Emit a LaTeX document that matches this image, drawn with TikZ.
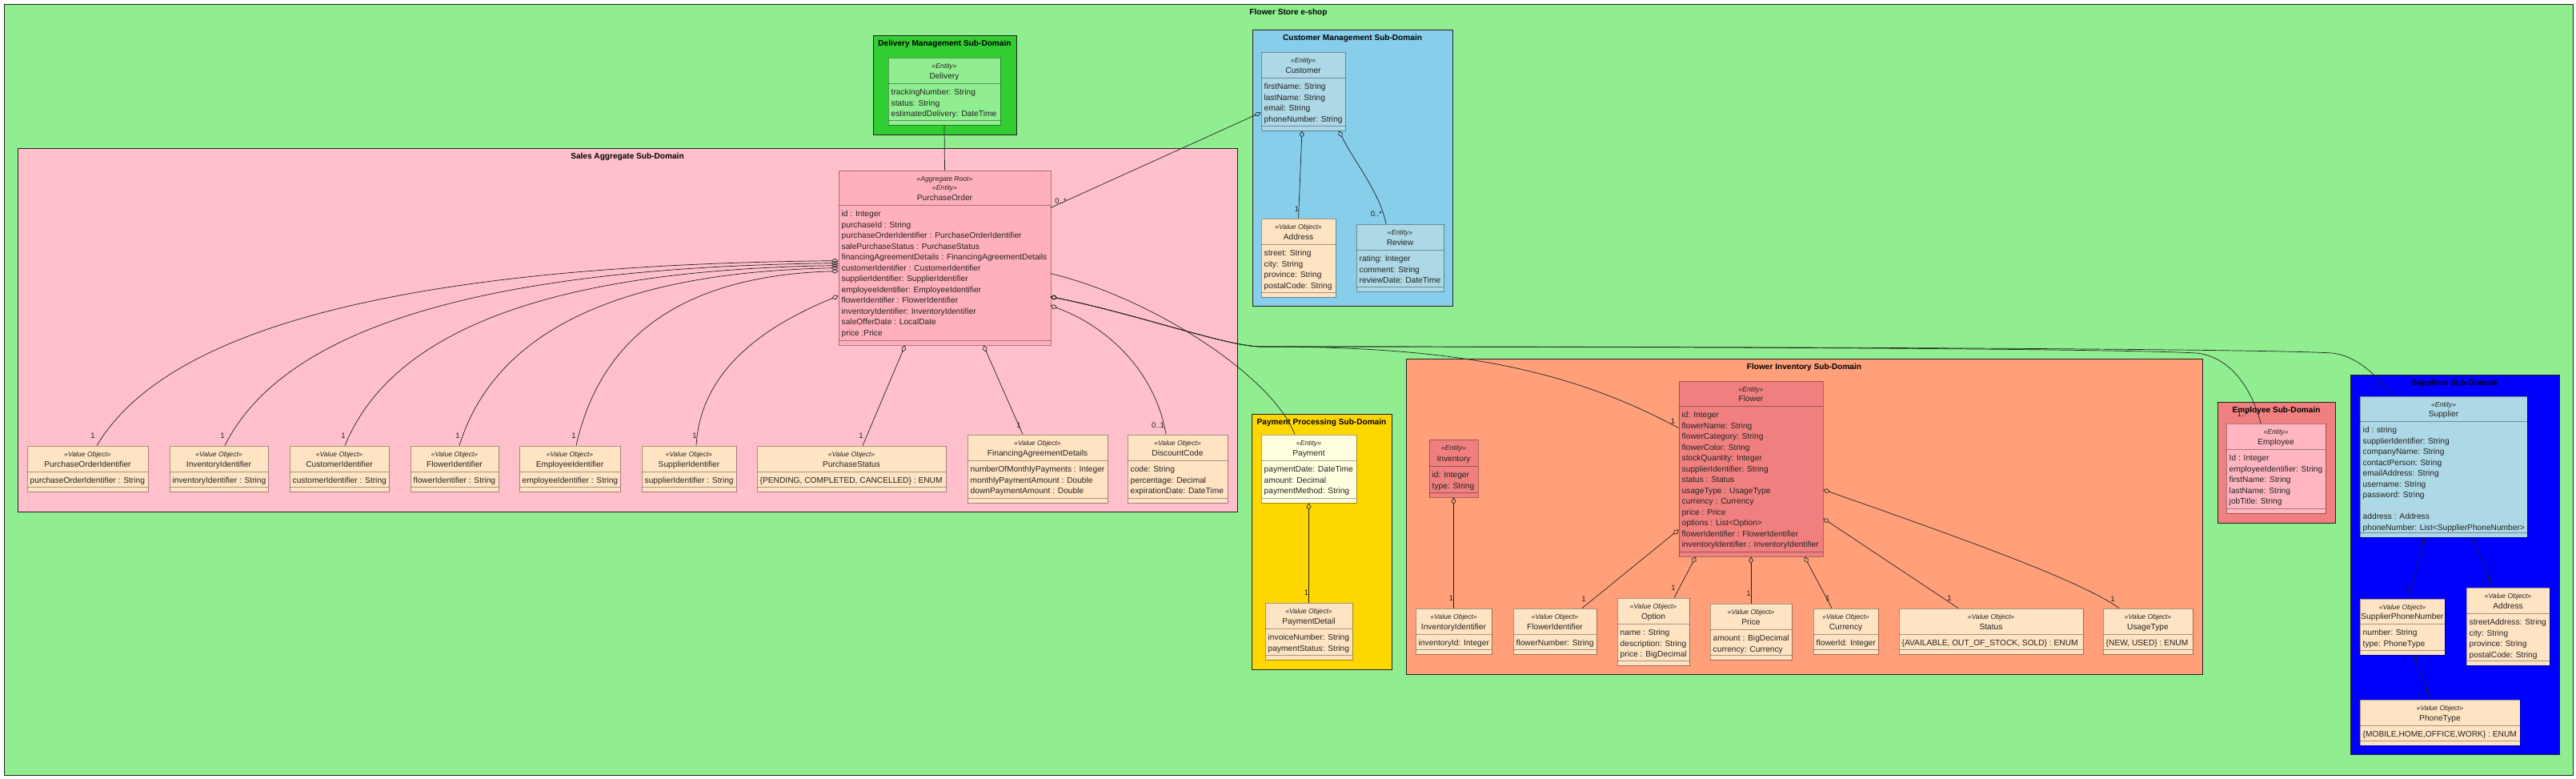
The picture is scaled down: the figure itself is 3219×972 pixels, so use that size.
\documentclass[tikz,border=0pt]{standalone}
\usepackage{fontspec}
\setmainfont{Liberation Sans}
\usetikzlibrary{arrows.meta,fit}

\definecolor{ink}{HTML}{222222}
\definecolor{bgouter}{HTML}{90EE90}
\definecolor{sdsalesc}{HTML}{FFC0CB}
\definecolor{sddelivc}{HTML}{32CD32}
\definecolor{sdcustc}{HTML}{87CEEB}
\definecolor{sdpayc}{HTML}{FFD700}
\definecolor{sdflowc}{HTML}{FFA07A}
\definecolor{sdempc}{HTML}{F08080}
\definecolor{sdsupc}{HTML}{0000FF}
\definecolor{cpo}{HTML}{FFB0BC}
\definecolor{cvo}{HTML}{FFE4C4}
\definecolor{cblue}{HTML}{ADD8E6}
\definecolor{cgreen}{HTML}{90EE90}
\definecolor{cyel}{HTML}{FFFFE0}
\definecolor{ccoral}{HTML}{F08080}
\definecolor{cpink}{HTML}{FFB6C1}

% class box: name x1 y1 x2 y2 headerY fill | stereotypes name attributes
\newcommand\umlcls[7]{\def\cN{#1}\def\cXa{#2}\def\cYa{#3}\def\cXb{#4}\def\cYb{#5}\def\cH{#6}\def\cF{#7}\umlclsrest}
\newcommand\umlclsrest[3]{%
  \node[clsbox, fill=\cF, fit={(\cXa,\cYa)(\cXb,\cYb)}] (\cN) {};
  \draw[clsrule] (\cXa,\cH) -- (\cXb,\cH);
  \draw[clsrule] ({\cXa},{\cYb-5.5}) -- ({\cXb},{\cYb-5.5});
  \foreach \s [count=\i] in {#1} {\node[stereo] (\cN-s\i) at ({(\cXa+\cXb)/2},{\cYa+13+(\i-1)*11.3}) {\s};}
  \node[cname] (\cN-n) at ({(\cXa+\cXb)/2},{\cH-5.5}) {#2};
  \foreach \a [count=\i] in {#3} {\node[attr] (\cN-a\i) at ({\cXa+3.5},{\cH+14.5+(\i-1)*13.5}) {\a};}
}
% sub-domain frame: name x1 y1 x2 y2 fill title
\newcommand\sdbox[7]{%
  \node[sdframe, fill=#6, fit={(#2,#3)(#4,#5)}] (#1) {};
  \node[sdtitle] (#1-t) at ({(#2+#4)/2},{#3+13}) {#7};
}

\begin{document}
\begin{tikzpicture}[x=1pt,y=-1pt,
  clsbox/.style={draw=black, draw opacity=0.35, line width=0.8pt, inner sep=0pt},
  clsrule/.style={draw=black, draw opacity=0.35, line width=0.8pt},
  stereo/.style={anchor=base, inner sep=0pt, font=\fontsize{8.6}{10}\selectfont\itshape, text=ink},
  cname/.style={anchor=base, inner sep=0pt, font=\fontsize{10.2}{12}\selectfont, text=ink},
  attr/.style={anchor=base west, inner sep=0pt, font=\fontsize{10.2}{12}\selectfont, text=ink},
  sdframe/.style={draw=ink, line width=1pt, inner sep=0pt},
  sdtitle/.style={anchor=base, inner sep=0pt, font=\fontsize{10.1}{12}\selectfont\bfseries, text=black},
  conn/.style={draw=ink, line width=0.7pt},
  agg/.style={conn, arrows={Diamond[open,length=9pt,width=6pt]-}},
  mult/.style={inner sep=0pt, font=\fontsize{9.5}{11}\selectfont, text=ink},
  ml/.style 2 args={mult, anchor=center, xshift=#1, yshift=#2},
  m1/.style={ml={-3pt}{12pt}}
]
\useasboundingbox (0,0) rectangle (3219,972);
\fill[white] (0,0) rectangle (3219,972);

% ---------- frames ----------
\sdbox{outer}{5}{5}{3215}{968}{bgouter}{Flower Store e-shop}
\sdbox{sdsales}{22}{185}{1546}{639}{sdsalesc}{Sales Aggregate Sub-Domain}
\sdbox{sddel}{1091}{44}{1270}{168}{sddelivc}{Delivery Management Sub-Domain}
\sdbox{sdcust}{1565}{37}{1815}{382}{sdcustc}{Customer Management Sub-Domain}
\sdbox{sdpay}{1564}{517}{1739}{836}{sdpayc}{Payment Processing Sub-Domain}
\sdbox{sdflow}{1757}{448}{2752}{842}{sdflowc}{Flower Inventory Sub-Domain}
\sdbox{sdemp}{2771}{502}{2918}{653}{sdempc}{Employee Sub-Domain}
\sdbox{sdsup}{2937}{468}{3198}{942}{sdsupc}{Suppliers Sub-Domain}

% ---------- classes ----------
\umlcls{deliv}{1110}{72}{1250}{156}{104}{cgreen}{«Entity»}{Delivery}{trackingNumber: String,status: String,estimatedDelivery: DateTime}

\umlcls{cust}{1576}{65}{1681}{163}{97}{cblue}{«Entity»}{Customer}{firstName: String,lastName: String,email: String,phoneNumber: String}
\umlcls{caddr}{1576}{273}{1669}{371}{305}{cvo}{«Value Object»}{Address}{street: String,city: String,province: String,postalCode: String}
\umlcls{review}{1695}{280}{1804}{364}{312}{cblue}{«Entity»}{Review}{rating: Integer,comment: String,reviewDate: DateTime}

\umlcls{po}{1048}{213}{1313}{431}{256}{cpo}{«Aggregate Root»,«Entity»}{PurchaseOrder}{id : Integer,purchaseId : String,purchaseOrderIdentifier : PurchaseOrderIdentifier,salePurchaseStatus : PurchaseStatus,financingAgreementDetails : FinancingAgreementDetails,customerIdentifier : CustomerIdentifier,supplierIdentifier: SupplierIdentifier,employeeIdentifier: EmployeeIdentifier,flowerIdentifier : FlowerIdentifier,inventoryIdentifier: InventoryIdentifier,saleOfferDate : LocalDate,price :Price}

\umlcls{poi}{34}{557}{185}{614}{589}{cvo}{«Value Object»}{PurchaseOrderIdentifier}{purchaseOrderIdentifier : String}
\umlcls{invi}{212}{557}{335}{614}{589}{cvo}{«Value Object»}{InventoryIdentifier}{inventoryIdentifier : String}
\umlcls{custi}{362}{557}{486}{614}{589}{cvo}{«Value Object»}{CustomerIdentifier}{customerIdentifier : String}
\umlcls{flowi}{513}{557}{623}{614}{589}{cvo}{«Value Object»}{FlowerIdentifier}{flowerIdentifier : String}
\umlcls{empi}{649}{557}{775}{614}{589}{cvo}{«Value Object»}{EmployeeIdentifier}{employeeIdentifier : String}
\umlcls{supi}{802}{557}{920}{614}{589}{cvo}{«Value Object»}{SupplierIdentifier}{supplierIdentifier : String}
\umlcls{pstat}{946}{557}{1182}{614}{589}{cvo}{«Value Object»}{PurchaseStatus}{{\{PENDING, COMPLETED, CANCELLED\} : ENUM}}
\umlcls{fad}{1209}{543}{1384}{628}{575}{cvo}{«Value Object»}{FinancingAgreementDetails}{numberOfMonthlyPayments : Integer,monthlyPaymentAmount : Double,downPaymentAmount : Double}
\umlcls{disc}{1409}{543}{1534}{628}{575}{cvo}{«Value Object»}{DiscountCode}{code: String,percentage: Decimal,expirationDate: DateTime}

\umlcls{payment}{1576}{543}{1695}{628}{575}{cyel}{«Entity»}{Payment}{paymentDate: DateTime,amount: Decimal,paymentMethod: String}
\umlcls{paydet}{1581}{753}{1690}{824}{785}{cvo}{«Value Object»}{PaymentDetail}{invoiceNumber: String,paymentStatus: String}

\umlcls{inv}{1786}{549}{1847}{621}{582}{ccoral}{«Entity»}{Inventory}{id: Integer,type: String}
\umlcls{invid}{1769}{760}{1864}{817}{792}{cvo}{«Value Object»}{InventoryIdentifier}{inventoryId: Integer}
\umlcls{flid}{1891}{760}{1995}{817}{792}{cvo}{«Value Object»}{FlowerIdentifier}{flowerNumber: String}
\umlcls{option}{2021}{747}{2111}{831}{779}{cvo}{«Value Object»}{Option}{name : String,description: String,price : BigDecimal}
\umlcls{price}{2137}{754}{2239}{824}{786}{cvo}{«Value Object»}{Price}{amount : BigDecimal,currency: Currency}
\umlcls{currency}{2266}{760}{2347}{817}{792}{cvo}{«Value Object»}{Currency}{flowerId: Integer}
\umlcls{status}{2373}{760}{2603}{817}{792}{cvo}{«Value Object»}{Status}{{\{AVAILABLE, OUT\_OF\_STOCK, SOLD\} : ENUM}}
\umlcls{usage}{2628}{760}{2740}{817}{792}{cvo}{«Value Object»}{UsageType}{{\{NEW, USED\} : ENUM}}
\umlcls{flower}{2098}{476}{2278}{695}{507}{ccoral}{«Entity»}{Flower}{id: Integer,flowerName: String,flowerCategory: String,flowerColor: String,stockQuantity: Integer,supplierIdentifier: String,status : Status,usageType : UsageType,currency : Currency,price : Price,options : List<Option>,flowerIdentifier : FlowerIdentifier,inventoryIdentifier : InventoryIdentifier}

\umlcls{employee}{2782}{529}{2906}{641}{561}{cpink}{«Entity»}{Employee}{Id : Integer,employeeIdentifier: String,firstName: String,lastName: String,jobTitle: String}

\umlcls{supplier}{2949}{495}{3158}{671}{526}{cblue}{«Entity»}{Supplier}{id : string,supplierIdentifier: String,companyName: String,contactPerson: String,emailAddress: String,username: String,password: String,{},address : Address,phoneNumber: List<SupplierPhoneNumber>}
\umlcls{sphone}{2949}{748}{3055}{818}{779}{cvo}{«Value Object»}{SupplierPhoneNumber}{number: String,type: PhoneType}
\umlcls{saddr}{3082}{734}{3186}{831}{766}{cvo}{«Value Object»}{Address}{streetAddress: String,city: String,province: String,postalCode: String}
\umlcls{phonetype}{2949}{874}{3149}{931}{906}{cvo}{«Value Object»}{PhoneType}{{\{MOBILE,HOME,OFFICE,WORK\} : ENUM}}

% ---------- connectors ----------
\coordinate (bundle) at (1575,433);
\coordinate (ebend) at (2745,441);
\coordinate (sbend) at (2915,441);

\draw[conn] (deliv.south) -- (po.north);

\draw[agg] ([shift={(0,76)}]cust.north west) -- ([shift={(265,47)}]po.north west) node[ml={13pt}{8pt}]{0..*};
\draw[agg] ([xshift=-1.5pt]cust.south) -- (caddr.north) node[ml={-2pt}{11pt}]{1};
\draw[agg] ([xshift=44.5pt]cust.south) .. controls (1693,203) and (1724,240) .. ([xshift=-17.5pt]review.north) node[ml={-12pt}{12pt}]{0..*};

\draw[agg] ([shift={(0,113)}]po.north west) .. controls (538,331) and (214,400) .. ([xshift=11.5pt]poi.north) node[ml={-5pt}{12pt}]{1};
\draw[agg] ([shift={(0,116)}]po.north west) .. controls (626,334) and (358,402) .. ([xshift=7.5pt]invi.north) node[m1]{1};
\draw[agg] ([shift={(0,119)}]po.north west) .. controls (709,337) and (493,404) .. ([xshift=7pt]custi.north) node[ml={-2pt}{12pt}]{1};
\draw[agg] ([shift={(0,122)}]po.north west) .. controls (787,340) and (621,406) .. ([xshift=6pt]flowi.north) node[ml={-2pt}{12pt}]{1};
\draw[agg] ([shift={(0,126)}]po.north west) .. controls (868,344) and (753,409) .. ([xshift=8pt]empi.north) node[m1]{1};
\draw[agg] ([shift={(0,157)}]po.north west) .. controls (948,410) and (875,467) .. ([xshift=9pt]supi.north) node[ml={-2pt}{12pt}]{1};
\draw[agg] ([xshift=-49.5pt]po.south) -- ([xshift=14pt]pstat.north) node[ml={-2pt}{12pt}]{1};
\draw[agg] ([xshift=48.5pt]po.south) -- ([xshift=-18.5pt]fad.north) node[ml={-5pt}{11pt}]{1};
\draw[agg] ([shift={(265,169)}]po.north west) .. controls (1390,410) and (1445,470) .. ([xshift=-14.5pt]disc.north) node[ml={-10pt}{11pt}]{0..1};

\draw[conn] ([shift={(265,129)}]po.north west) .. controls (1440,372) and (1590,470) .. ([xshift=-17.5pt]payment.north);
\draw[agg] (payment.south) -- (paydet.north) node[m1]{1};

\draw[agg] ([shift={(265,158)}]po.north west) .. controls (1420,392) and (1530,432) .. (bundle) .. controls (1800,433) and (1950,455) .. ([shift={(0,59)}]flower.north west) node[ml={-7pt}{8pt}]{1};
\draw[agg] ([shift={(265,158)}]po.north west) .. controls (1420,392) and (1530,432) .. (bundle) .. controls (2200,433) and (2650,436) .. (ebend) .. controls (2790,446) and (2815,490) .. ([xshift=-19pt]employee.north) node[ml={-22pt}{11pt}]{1..*};
\draw[agg] ([shift={(265,158)}]po.north west) .. controls (1420,392) and (1530,432) .. (bundle) .. controls (2300,433) and (2830,436) .. (sbend) .. controls (2950,446) and (2975,475) .. ([xshift=-64.5pt]supplier.north) node[ml={-21pt}{12pt}]{1..*};

\draw[agg] (inv.south) -- (invid.north) node[m1]{1};
\draw[agg] ([shift={(0,186)}]flower.north west) -- ([xshift=34pt]flid.north) node[ml={2pt}{11pt}]{1};
\draw[agg] ([xshift=-69pt]flower.south) -- ([xshift=26pt]option.north) node[ml={-1pt}{12pt}]{1};
\draw[agg] (flower.south) -- (price.north) node[m1]{1};
\draw[agg] ([xshift=67pt]flower.south) -- ([xshift=-17.5pt]currency.north) node[ml={-5pt}{12pt}]{1};
\draw[agg] ([shift={(0,172)}]flower.north east) -- ([xshift=-41pt]status.north) node[ml={-11pt}{12pt}]{1};
\draw[agg] ([shift={(0,136)}]flower.north east) .. controls (2450,672) and (2600,725) .. ([xshift=-36pt]usage.north) node[ml={-8pt}{11pt}]{1};

\draw[agg] ([xshift=-23.5pt]supplier.south) -- ([xshift=8pt]sphone.north) node[ml={-1pt}{12pt}]{1};
\draw[agg] ([xshift=36.5pt]supplier.south) -- ([xshift=-19pt]saddr.north) node[ml={-5pt}{11pt}]{1};
\draw[agg] ([xshift=14pt]sphone.south) -- ([xshift=-12pt]phonetype.north) node[ml={-4pt}{11pt}]{1};
\end{tikzpicture}
\end{document}
